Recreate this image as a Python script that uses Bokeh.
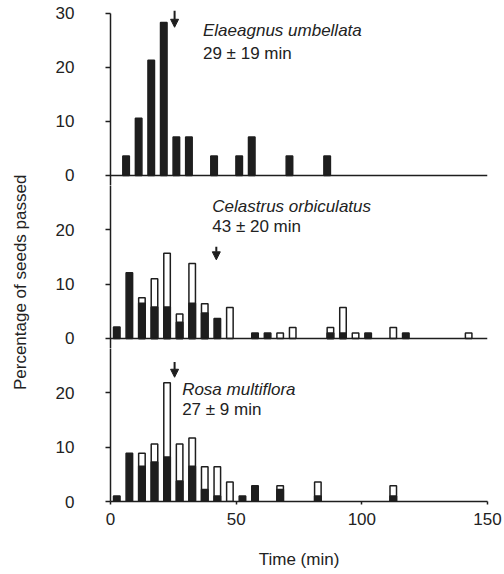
from bokeh.plotting import figure
from bokeh.layouts import column, row
from bokeh.models import Range1d, FixedTicker, Label, Arrow, NormalHead, Span, ColumnDataSource
from bokeh.embed import file_html
from bokeh.resources import INLINE

FONT = "Liberation Sans"
DARK = "#1e1e1e"

# ---- data (percentage of seeds passed per 5-min bin) ----
# Elaeagnus umbellata (all black)
e_time = [6.2, 11.2, 16.2, 21.2, 26.2, 31.2, 41.2, 51.2, 56.2, 71.2, 86.2]
e_black = [3.6, 10.6, 21.3, 28.3, 7.1, 7.1, 3.6, 3.6, 7.1, 3.6, 3.6]
e_total = [3.6, 10.6, 21.3, 28.3, 7.1, 7.1, 3.6, 3.6, 7.1, 3.6, 3.6]

# Celastrus orbiculatus
c_time = [2.5, 7.5, 12.5, 17.5, 22.5, 27.5, 32.5, 37.5, 42.5, 47.5, 57.5,
          62.5, 67.5, 72.5, 87.5, 92.5, 97.5, 102.5, 112.5, 117.5, 142.5]
c_total = [2.1, 12.1, 7.5, 11.0, 15.7, 4.5, 13.8, 6.4, 3.7, 5.7, 1.0,
           1.0, 1.0, 2.0, 2.0, 5.7, 1.0, 1.0, 2.0, 1.0, 1.0]
c_black = [2.1, 12.1, 6.5, 5.8, 5.8, 3.0, 6.5, 4.7, 3.7, 0.0, 1.0,
           1.0, 0.0, 0.0, 1.0, 1.0, 0.0, 1.0, 0.0, 1.0, 0.0]

# Rosa multiflora
r_time = [2.5, 7.5, 12.5, 17.5, 22.5, 27.5, 32.5, 37.5, 42.5, 47.5, 52.5,
          57.5, 67.5, 82.5, 112.5]
r_total = [1.0, 8.9, 8.9, 10.6, 21.9, 10.6, 11.7, 6.4, 6.4, 3.6, 1.0,
           2.9, 2.9, 3.6, 2.9]
r_black = [1.0, 8.9, 6.5, 7.3, 8.2, 3.8, 6.5, 2.2, 1.0, 0.0, 1.0,
           2.9, 2.2, 1.0, 1.0]

species = ["Elaeagnus umbellata", "Celastrus orbiculatus", "Rosa multiflora"]
means = ["29 \u00b1 19 min", "43 \u00b1 20 min", "27 \u00b1 9 min"]
# mean arrows (x, y_start, y_end)
arrow_x = [25.5, 42.1, 25.5]
arrow_y0 = [30.5, 16.9, 25.7]
arrow_y1 = [27.4, 14.5, 22.9]
# label positions (x, baseline of name, baseline of mean)
lab_x = [36.8, 40.5, 28.5]
lab_y1 = [26.8, 24.4, 20.7]
lab_y2 = [22.6, 20.7, 17.0]

x_ticks = [0, 50, 100, 150]

BAR_W = 2.6


def make_panel(i, times, total, black, height, yr, yticks, top_border, bottom_border, bottom_axis):
    p = figure(width=465, height=height, output_backend="svg", toolbar_location=None,
               x_range=Range1d(0, 150), y_range=Range1d(*yr),
               x_axis_location="below" if bottom_axis else None,
               min_border_left=72, min_border_right=16,
               min_border_top=top_border, min_border_bottom=bottom_border)
    p.outline_line_color = None
    p.grid.visible = False
    p.background_fill_color = "white"
    p.border_fill_color = "white"

    ya = p.yaxis[0]
    ya.ticker = FixedTicker(ticks=yticks)
    ya.major_label_text_font = FONT
    ya.major_label_text_font_size = "17px"
    ya.major_label_text_color = "#222222"
    ya.major_tick_out = 5
    ya.major_tick_in = 0
    ya.major_label_standoff = 31
    ya.axis_line_width = 1.5
    ya.axis_line_color = DARK
    ya.major_tick_line_width = 1.5
    ya.major_tick_line_color = DARK
    ya.minor_tick_line_color = None
    if i == 0:
        ya.bounds = (yr[0], 30)

    if bottom_axis:
        xa = p.xaxis[0]
        xa.ticker = FixedTicker(ticks=x_ticks)
        xa.major_label_text_font = FONT
        xa.major_label_text_font_size = "17px"
        xa.major_label_text_color = "#222222"
        xa.major_tick_out = 3
        xa.major_tick_in = 0
        xa.major_label_standoff = 8
        xa.axis_line_width = 1.5
        xa.axis_line_color = DARK
        xa.major_tick_line_width = 1.5
        xa.major_tick_line_color = DARK
        xa.minor_tick_line_color = None
        xa.axis_label = "Time (min)"
        xa.axis_label_text_font = FONT
        xa.axis_label_text_font_size = "17px"
        xa.axis_label_text_font_style = "normal"
        xa.axis_label_text_color = "#222222"
        xa.axis_label_standoff = 22
    else:
        p.add_layout(Span(location=0, dimension="width", line_color=DARK, line_width=1.5))

    tot = ColumnDataSource(dict(x=[t for t, a, b in zip(times, total, black) if a > b],
                                top=[a for t, a, b in zip(times, total, black) if a > b]))
    blk = ColumnDataSource(dict(x=[t for t, b in zip(times, black) if b > 0],
                                top=[b for t, b in zip(times, black) if b > 0]))
    p.vbar(x="x", top="top", bottom=0, width=BAR_W, source=tot,
           fill_color="white", line_color=DARK, line_width=1.5)
    p.vbar(x="x", top="top", bottom=0, width=BAR_W, source=blk,
           fill_color=DARK, line_color=DARK, line_width=1.5)

    p.add_layout(Label(x=lab_x[i], y=lab_y1[i], text=species[i], text_font=FONT,
                       text_font_size="17px", text_font_style="italic",
                       text_color="#222222", text_baseline="alphabetic"))
    p.add_layout(Label(x=lab_x[i], y=lab_y2[i], text=means[i], text_font=FONT,
                       text_font_size="17px", text_color="#222222",
                       text_baseline="alphabetic"))
    p.add_layout(Arrow(end=NormalHead(size=8, fill_color=DARK, line_color=DARK),
                       x_start=arrow_x[i], y_start=arrow_y0[i],
                       x_end=arrow_x[i], y_end=arrow_y1[i],
                       line_color=DARK, line_width=2))
    return p


p1 = make_panel(0, e_time, e_total, e_black, 185, (-1.85, 30.5), [0, 10, 20, 30], 10, 0, False)
p2 = make_panel(1, c_time, c_total, c_black, 163, (-1.85, 28.2), [0, 10, 20], 0, 0, False)
p3 = make_panel(2, r_time, r_total, r_black, 226, (0, 28.2), [0, 10, 20], 0, 73, True)

lab = figure(width=38, height=574, output_backend="svg", toolbar_location=None,
             x_range=Range1d(0, 1), y_range=Range1d(0, 1),
             x_axis_location=None, y_axis_location=None,
             min_border_left=0, min_border_right=0, min_border_top=0, min_border_bottom=0)
lab.outline_line_color = None
lab.grid.visible = False
lab.add_layout(Label(x=0.526, y=0.509, text="Percentage of seeds passed", angle=90,
                     angle_units="deg", text_font=FONT, text_font_size="17px",
                     text_color="#222222", text_align="center", text_baseline="middle"))

layout = row(lab, column(p1, p2, p3))

open("out.html", "w").write(file_html(layout, INLINE))
